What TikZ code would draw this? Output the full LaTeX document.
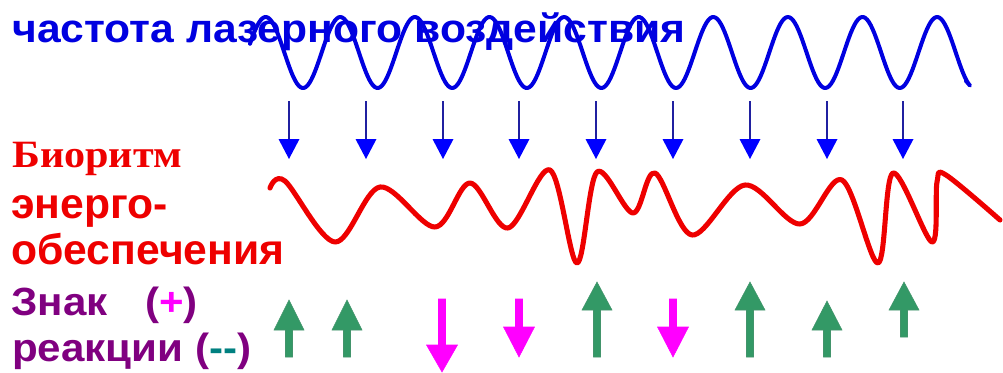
\documentclass[tikz,border=0pt]{standalone}
\usepackage{graphicx}
\usepackage{fontspec}
\setmainfont{Liberation Sans}
\newfontfamily\serifb{Liberation Serif}
\definecolor{wblue}{HTML}{0000E0}
\definecolor{ablue}{HTML}{0000FF}
\definecolor{navy}{HTML}{2020A0}
\definecolor{wred}{HTML}{EE0000}
\definecolor{tred}{HTML}{EE0000}
\definecolor{purp}{HTML}{800080}
\definecolor{magen}{HTML}{FF00FF}
\definecolor{teal2}{HTML}{008080}
\definecolor{green2}{HTML}{339966}
\tikzset{
  lbl/.style={anchor=base west, inner sep=0pt, font=\bfseries},
  uparr/.style={fill=green2, draw=green2!80!gray, line width=0.4pt},
  dnarr/.style={fill=magen, draw=magen, line width=0.4pt},
}
\newcommand{\bluearrow}[1]{%
  \draw[navy, line width=0.9pt] (#1,101) -- (#1,140);
  \fill[ablue] (#1-10.5,139) -- (#1+10.5,139) -- (#1,159) -- cycle;}
% up arrow: x, tip y, head base y, bottom y
\newcommand{\greenup}[4]{%
  \draw[uparr] (#1,#2) -- (#1+15,#3) -- (#1+3.5,#3) -- (#1+3.5,#4) -- (#1-3.5,#4) -- (#1-3.5,#3) -- (#1-15,#3) -- cycle;}
% down arrow: x, top y, head base y, tip y
\newcommand{\magdown}[4]{%
  \draw[dnarr] (#1,#4) -- (#1+15.5,#3) -- (#1+3.5,#3) -- (#1+3.5,#2) -- (#1-3.5,#2) -- (#1-3.5,#3) -- (#1-15.5,#3) -- cycle;}
\begin{document}
\begin{tikzpicture}[x=0.75pt,y=-0.75pt]
\useasboundingbox (0,0) rectangle (1003,372);
% blue wave
\draw[wblue, line width=3pt, line cap=round, line join=round]
  plot[domain=250:970, samples=400] (\x, {52.5+35.5*cos((\x-303)*4.8257)})
  -- (966,81);
% title
\node[lbl, text=wblue, font=\fontsize{30}{32}\selectfont\bfseries] (t1) at (12,42) {\scalebox{1.065}[1]{частота лазерного воздействия}};
% blue arrows
\foreach \xx in {289,366,443,519,596,673,750,827,903} {\bluearrow{\xx}}
% red wave
\draw[wred, line width=3.8pt, line cap=round, line join=round]
  plot[smooth, tension=0.55] coordinates {
  (270,188) (285,181) (335,242) (380,187) (435,227) (470,183) (508,228)
  (550,170) (577,263) (597,172) (633,213) (655,173) (692,235) (745,185)
  (800,224) (842,180) (878,263) (893,173) (932,242) (937,182) (946,175) (1000,220)};
% red labels
\node[lbl, text=tred, font=\fontsize{29}{31}\selectfont\bfseries\serifb] (t2) at (12,167) {\scalebox{1.09}[1]{Биоритм}};
\node[lbl, text=tred, font=\fontsize{32}{34}\selectfont\bfseries] (t3) at (11,218) {энерго-};
\node[lbl, text=tred, font=\fontsize{32}{34}\selectfont\bfseries] (t4) at (11,264) {обеспечения};
% purple labels
\node[lbl, text=purp, font=\fontsize{29.5}{31}\selectfont\bfseries] (t5) at (11,315) {\scalebox{1.07}[1]{Знак}};
\node[lbl, text=purp, font=\fontsize{29.5}{31}\selectfont\bfseries] (t6) at (145,315) {\scalebox{1.07}[1]{(\textcolor{magen}{+})}};
\node[lbl, text=purp, font=\fontsize{29.5}{31}\selectfont\bfseries] (t7) at (12,361) {\scalebox{1.07}[1]{реакции (\textcolor{teal2}{-{}-})}};
% reaction arrows
\greenup{289}{300}{330}{357}
\greenup{347}{300}{330}{357}
\magdown{442}{299}{345}{372}
\magdown{519}{299}{327}{357}
\greenup{597}{282}{310}{357}
\magdown{673}{299}{327}{357}
\greenup{750}{282}{310}{357}
\greenup{827}{301}{330}{357}
\greenup{904}{282}{310}{337}
\end{tikzpicture}
\end{document}
